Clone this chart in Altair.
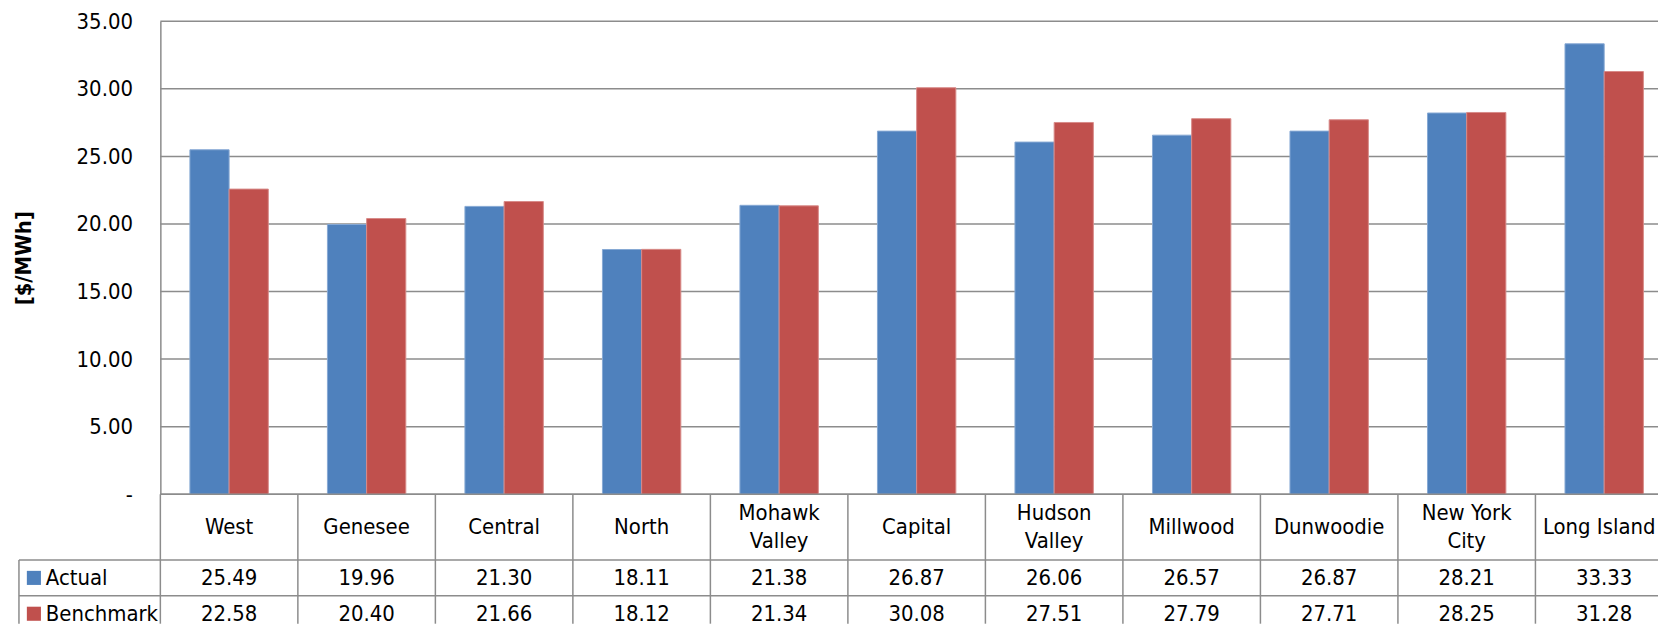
import altair as alt
import pandas as pd

categories = ["West", "Genesee", "Central", "North", "Mohawk Valley", "Capital",
              "Hudson Valley", "Millwood", "Dunwoodie", "New York City", "Long Island"]
cat_labels = ["West", "Genesee", "Central", "North", "Mohawk\nValley", "Capital",
              "Hudson\nValley", "Millwood", "Dunwoodie", "New York\nCity", "Long Island"]
actual = [25.49, 19.96, 21.30, 18.11, 21.38, 26.87, 26.06, 26.57, 26.87, 28.21, 33.33]
benchmark = [22.58, 20.40, 21.66, 18.12, 21.34, 30.08, 27.51, 27.79, 27.71, 28.25, 31.28]
series = ["Actual", "Benchmark"]
colors = ["#4F81BD", "#C0504D"]
edge_colors = ["#86a8d4", "#d88a88"]
y_ticks = [0, 5, 10, 15, 20, 25, 30, 35]

FONT = "Liberation Sans Narrow, Arial Narrow, DejaVu Sans Condensed, sans-serif"
GRID = "#8c8c8c"
LW = 1.5
FS = 22
PLOT_W = 1504
PLOT_H = 475
COLS_RANGE = 1519
CAT_H = 66
ROW_H = 36
ROWS_H = 64
LEG_W = 142

rows = []
for name, vals in zip(series, [actual, benchmark]):
    for z, v in zip(categories, vals):
        rows.append({"zone": z, "series": name, "value": v})
df = pd.DataFrame(rows)
cat_df = pd.DataFrame({"zone": categories, "label": cat_labels})
cat_df["lines"] = cat_df["label"].str.count("\n") + 1
cat_df["edge"] = cat_df["zone"] == categories[-1]
ser_df = pd.DataFrame({"series": series})
tick_df = pd.DataFrame({"tick": y_ticks})

color_enc = alt.Color("series:N", scale=alt.Scale(domain=series, range=colors), legend=None)

# ---------------- bar panel ----------------
yscale = alt.Scale(domain=[0, 35], nice=False)
yaxis = alt.Axis(values=y_ticks, title="[$/MWh]",
                 labelExpr="datum.value == 0 ? '-\u00a0\u00a0' : format(datum.value, '.2f')",
                 grid=False, domain=True, domainColor=GRID, domainWidth=LW,
                 ticks=False, labelPadding=28, labelFontSize=FS,
                 labelFont=FONT, labelColor="#000",
                 titleFont=FONT, titleFontSize=FS, titleFontWeight="bold",
                 titleColor="#000", titleX=-125, titleY=PLOT_H / 2)

grid = alt.Chart(tick_df).mark_rule(color=GRID, strokeWidth=LW).encode(
    y=alt.Y("tick:Q", scale=yscale, axis=yaxis),
    x=alt.value(0), x2=alt.value(PLOT_W),
)

bars = alt.Chart(df).mark_bar(strokeWidth=1).encode(
    x=alt.X("zone:N", sort=categories,
            scale=alt.Scale(domain=categories, range=[0, COLS_RANGE],
                            paddingInner=0.43, paddingOuter=0.215),
            axis=None),
    xOffset=alt.XOffset("series:N", sort=series, scale=alt.Scale(domain=series)),
    y=alt.Y("value:Q", scale=yscale, axis=yaxis),
    color=color_enc,
    stroke=alt.Stroke("series:N", scale=alt.Scale(domain=series, range=edge_colors), legend=None),
)

base_line = alt.Chart(tick_df).transform_filter("datum.tick == 0").mark_rule(
    color=GRID, strokeWidth=LW
).encode(
    y=alt.Y("tick:Q", scale=yscale, axis=yaxis),
    x=alt.value(0), x2=alt.value(PLOT_W),
)

panel = alt.layer(grid, bars, base_line).properties(width=PLOT_W, height=PLOT_H)

# ---------------- category row ----------------
tab_x = alt.Scale(domain=categories, range=[0, COLS_RANGE], paddingInner=0, paddingOuter=0)

vl_b = alt.Chart(cat_df).mark_rule(color=GRID, strokeWidth=LW).encode(
    x=alt.X("zone:N", sort=categories, scale=tab_x, axis=None, bandPosition=0),
    y=alt.value(0), y2=alt.value(CAT_H),
)

txt_kw = dict(font=FONT, fontSize=FS, lineBreak="\n", lineHeight=28, baseline="middle",
              align="center", color="#000", clip=True)

cat1 = alt.Chart(cat_df).transform_filter("datum.lines == 1 && !datum.edge").mark_text(
    **txt_kw
).encode(
    x=alt.X("zone:N", sort=categories, scale=tab_x, axis=None),
    y=alt.value(CAT_H / 2),
    text="label:N",
)
cat_edge = alt.Chart(cat_df).transform_filter("datum.lines == 1 && datum.edge").mark_text(
    dx=-5, **txt_kw
).encode(
    x=alt.X("zone:N", sort=categories, scale=tab_x, axis=None),
    y=alt.value(CAT_H / 2),
    text="label:N",
)
cat2 = alt.Chart(cat_df).transform_filter("datum.lines == 2").mark_text(**txt_kw).encode(
    x=alt.X("zone:N", sort=categories, scale=tab_x, axis=None),
    y=alt.value(CAT_H / 2 - 14),
    text="label:N",
)

cat_row = alt.layer(vl_b, cat1, cat_edge, cat2).properties(width=PLOT_W, height=CAT_H)

# ---------------- data rows ----------------
tab_y = alt.Scale(domain=series, range=[0, 2 * ROW_H], paddingInner=0, paddingOuter=0)

hl_c = alt.Chart(ser_df).mark_rule(color=GRID, strokeWidth=LW).encode(
    y=alt.Y("series:N", sort=series, scale=tab_y, axis=None, bandPosition=0),
    x=alt.value(-LEG_W), x2=alt.value(PLOT_W),
)

vl_c = alt.Chart(cat_df).mark_rule(color=GRID, strokeWidth=LW).encode(
    x=alt.X("zone:N", sort=categories, scale=tab_x, axis=None, bandPosition=0),
    y=alt.value(0), y2=alt.value(ROWS_H),
)

left_border = alt.Chart(ser_df).transform_filter("datum.series == 'Actual'").mark_rule(
    color=GRID, strokeWidth=LW
).encode(
    x=alt.value(-LEG_W), y=alt.value(0), y2=alt.value(ROWS_H)
)

vals = alt.Chart(df).mark_text(
    font=FONT, fontSize=FS, baseline="middle", align="center", color="#000", clip=True
).encode(
    x=alt.X("zone:N", sort=categories, scale=tab_x, axis=None),
    y=alt.Y("series:N", sort=series, scale=tab_y, axis=None),
    text=alt.Text("value:Q", format=".2f"),
)

leg_text = alt.Chart(ser_df).mark_text(
    font=FONT, fontSize=FS, baseline="middle", align="left", color="#000"
).encode(
    x=alt.value(-115),
    y=alt.Y("series:N", sort=series, scale=tab_y, axis=None),
    text="series:N",
)

leg_sq = alt.Chart(ser_df).mark_point(shape="square", filled=True, size=200, opacity=1).encode(
    x=alt.value(-127),
    y=alt.Y("series:N", sort=series, scale=tab_y, axis=None),
    color=color_enc,
)

data_rows = alt.layer(hl_c, vl_c, left_border, vals, leg_text, leg_sq).properties(
    width=PLOT_W, height=ROWS_H
)

chart = alt.vconcat(panel, cat_row, data_rows, spacing=0, bounds="flush").configure_view(
    stroke=None
).properties(
    padding={"left": 5, "top": 1, "right": 0, "bottom": 0}
)

chart.save("out.html", embed_options={"renderer": "svg", "actions": False})
